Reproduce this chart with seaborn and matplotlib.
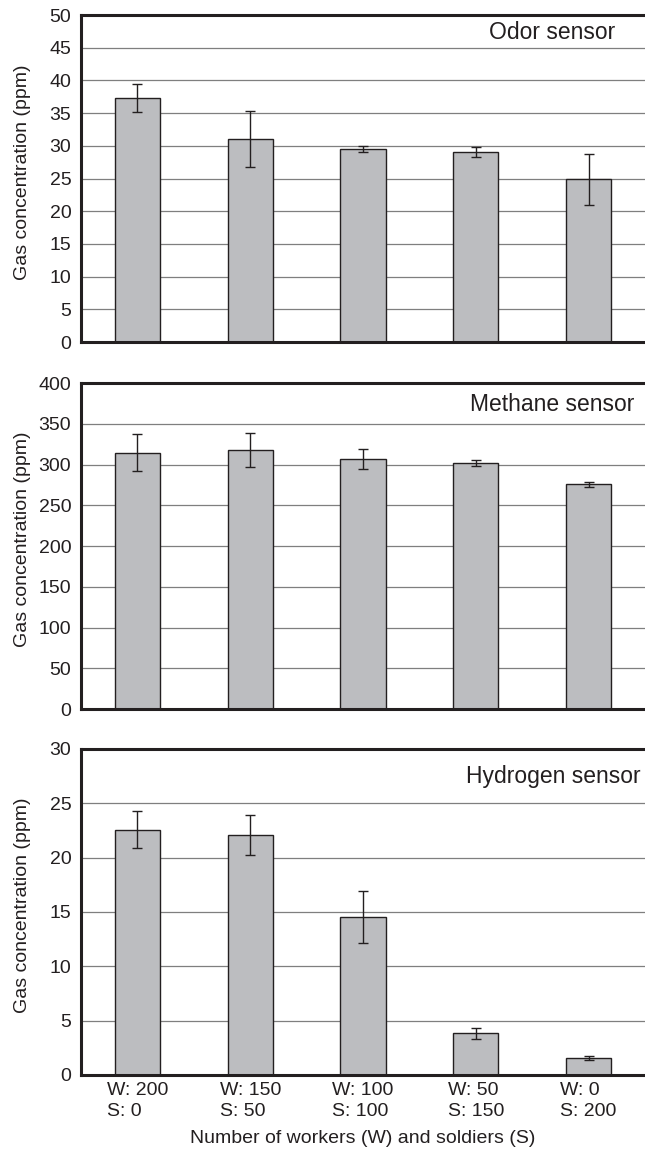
import numpy as np
import pandas as pd
import seaborn as sns
import matplotlib.pyplot as plt

groups = ["W: 200\nS: 0", "W: 150\nS: 50", "W: 100\nS: 100", "W: 50\nS: 150", "W: 0\nS: 200"]

odor_mean = [37.3, 31.0, 29.5, 29.0, 24.9]
odor_err = [2.1, 4.3, 0.45, 0.75, 3.9]

methane_mean = [314.5, 318.0, 307.0, 302.0, 276.0]
methane_err = [23.0, 21.0, 12.5, 3.5, 3.0]

hydrogen_mean = [22.55, 22.1, 14.5, 3.85, 1.6]
hydrogen_err = [1.7, 1.85, 2.4, 0.5, 0.18]

sensor_names = ["Odor sensor", "Methane sensor", "Hydrogen sensor"]
y_limits = [50, 400, 30]
y_steps = [5, 50, 5]

DARK = "#231f20"
BAR_GRAY = "#bcbdc0"


def draw_panel(ax, means, errs, name, ymax, step, text_xy, show_xlabels):
    df = pd.DataFrame({"group": groups, "value": means})
    sns.barplot(data=df, x="group", y="value", ax=ax, color=BAR_GRAY,
                width=0.4, edgecolor=DARK, linewidth=1.0, saturation=1,
                errorbar=None, zorder=3)
    ax.errorbar(np.arange(len(means)), means, yerr=errs, fmt="none",
                ecolor=DARK, elinewidth=1.0, capsize=3.5, capthick=1.0, zorder=4)

    ax.set_xlim(-0.5, 4.5)
    ax.set_ylim(0, ymax)
    ax.set_yticks(np.arange(0, ymax + step, step))
    ax.yaxis.grid(True, color="#7f7f7f", linewidth=0.9)
    ax.set_axisbelow(True)
    ax.tick_params(axis="y", length=0, pad=7, labelsize=14, labelcolor=DARK)
    ax.tick_params(axis="x", which="major", length=0, pad=5, labelsize=14,
                   labelcolor=DARK)
    ax.set_xticks([0.5, 1.5, 2.5, 3.5], minor=True)
    ax.tick_params(axis="x", which="minor", direction="in", length=4,
                   width=1, color="#7f7f7f")

    for side in ["left", "top", "bottom"]:
        ax.spines[side].set_linewidth(2.2)
        ax.spines[side].set_color(DARK)
        ax.spines[side].set_zorder(5)
    ax.spines["right"].set_visible(False)

    ax.set_ylabel("Gas concentration (ppm)", fontsize=14, color=DARK)
    ax.yaxis.set_label_coords(-0.088, 0.52)
    ax.set_xlabel("")
    ax.text(text_xy[0], text_xy[1], name, transform=ax.transAxes, ha="right",
            va="center", fontsize=16.5, color=DARK)

    if show_xlabels:
        ax.set_xticks(range(len(groups)))
        ax.set_xticklabels(groups, ha="center", multialignment="left",
                           linespacing=1.35)
        ax.set_xlabel("Number of workers (W) and soldiers (S)", fontsize=14,
                      color=DARK, labelpad=7)
    else:
        ax.set_xticklabels([])


def main():
    sns.set_style("white")
    plt.rcParams["font.family"] = ["Liberation Sans", "DejaVu Sans"]

    fig = plt.figure(figsize=(6.45, 11.54), dpi=100)
    positions = [
        [0.1256, 0.7036, 0.8744, 0.2834],
        [0.1256, 0.3856, 0.8744, 0.2825],
        [0.1256, 0.0685, 0.8744, 0.2825],
    ]
    text_pos = [(0.947, 0.945), (0.981, 0.935), (0.992, 0.917)]
    data = [(odor_mean, odor_err), (methane_mean, methane_err),
            (hydrogen_mean, hydrogen_err)]

    for i, pos in enumerate(positions):
        ax = fig.add_axes(pos)
        means, errs = data[i]
        draw_panel(ax, means, errs, sensor_names[i], y_limits[i], y_steps[i],
                   text_pos[i], show_xlabels=(i == 2))

    fig.savefig("out.png", dpi=100, facecolor="white")


if __name__ == '__main__':
    main()
